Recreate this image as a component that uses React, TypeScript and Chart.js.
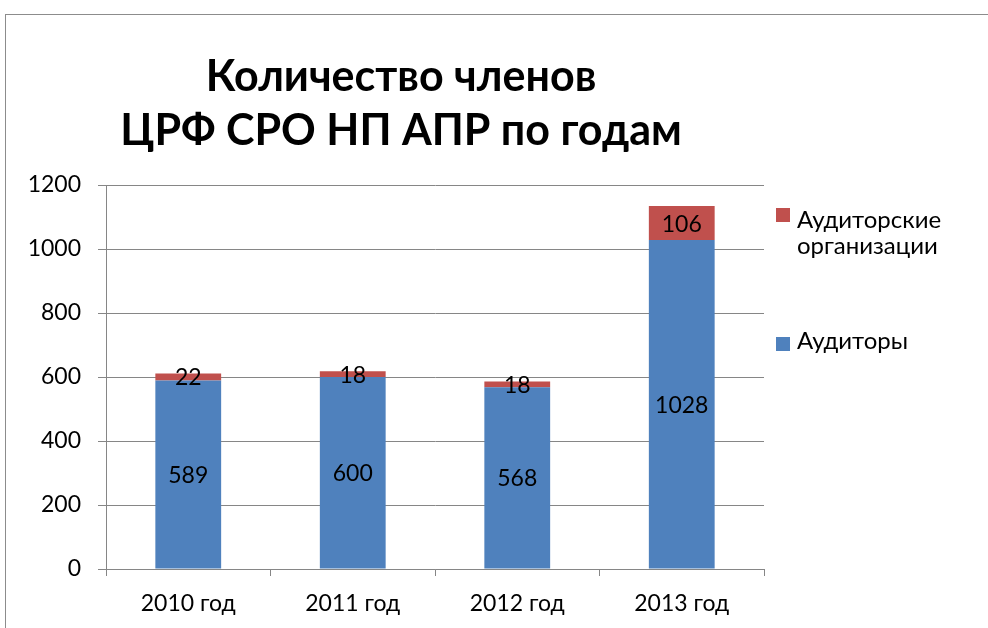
import React, { useEffect, useRef } from "react";
import { Chart, registerables } from "chart.js";
Chart.register(...registerables);

const categories = ["2010 год", "2011 год", "2012 год", "2013 год"];
const auditors = [589, 600, 568, 1028];
const organizations = [22, 18, 18, 106];
const titleLines = ["Количество членов", "ЦРФ СРО НП АПР по годам"];
const seriesNames = ["Аудиторы", "Аудиторские организации"];
const legendLines = [["Аудиторы"], ["Аудиторские", "организации"]];
const yMin = 0;
const yMax = 1200;
const yStep = 200;

const FONT = "Lato, 'Open Sans', sans-serif";
const GRID = "#868686";

const framePlugin = {
  id: "frame",
  beforeDraw(chart: any) {
    const ctx = chart.ctx;
    ctx.save();
    ctx.fillStyle = "#ffffff";
    ctx.fillRect(0, 0, chart.width, chart.height);
    ctx.strokeStyle = "#8c8c8c";
    ctx.lineWidth = 1;
    ctx.strokeRect(5.5, 14.5, 1100, 800);
    ctx.restore();
  },
  afterDraw(chart: any) {
    const ctx = chart.ctx;
    ctx.save();
    ctx.fillStyle = "#000";
    ctx.font = `bold 43px ${FONT}`;
    ctx.textAlign = "center";
    ctx.textBaseline = "alphabetic";
    ctx.fillText(titleLines[0], 401, 91);
    ctx.fillText(titleLines[1], 401, 145);

    // legend
    ctx.font = `24px ${FONT}`;
    ctx.textAlign = "left";
    const entries = [
      { ds: 1, boxY: 208, baseY: 228 },
      { ds: 0, boxY: 337, baseY: 349 },
    ];
    entries.forEach((e) => {
      const dataset = chart.data.datasets[e.ds];
      ctx.fillStyle = dataset.backgroundColor;
      ctx.fillRect(776, e.boxY, 14, 14);
      ctx.fillStyle = "#000";
      legendLines[e.ds].forEach((line: string, i: number) => {
        ctx.fillText(line, 797, e.baseY + i * 26);
      });
    });
    ctx.restore();
  },
  afterDatasetsDraw(chart: any) {
    const ctx = chart.ctx;
    ctx.save();
    ctx.fillStyle = "#000";
    ctx.font = `23px ${FONT}`;
    ctx.textAlign = "center";
    ctx.textBaseline = "middle";
    chart.data.datasets.forEach((ds: any, di: number) => {
      const meta = chart.getDatasetMeta(di);
      meta.data.forEach((el: any, i: number) => {
        const y = (el.y + el.base) / 2;
        ctx.fillText(String(ds.data[i]), el.x, y + 1);
      });
    });
    ctx.restore();
  },
};

export default function App() {
  const ref = useRef<HTMLCanvasElement>(null);
  useEffect(() => {
    const chart = new Chart(ref.current as HTMLCanvasElement, {
      type: "bar",
      data: {
        labels: categories,
        datasets: [
          {
            label: seriesNames[0],
            data: auditors,
            backgroundColor: "#4F81BD",
            categoryPercentage: 1,
            barPercentage: 0.4,
          },
          {
            label: seriesNames[1],
            data: organizations,
            backgroundColor: "#C0504D",
            categoryPercentage: 1,
            barPercentage: 0.4,
          },
        ],
      },
      options: {
        animation: false,
        responsive: true,
        maintainAspectRatio: false,
        layout: { padding: { left: 0, right: 224, top: 185, bottom: 0 } },
        plugins: {
          legend: { display: false },
          title: { display: false },
          tooltip: { enabled: false },
        },
        scales: {
          x: {
            stacked: true,
            offset: true,
            grid: {
              display: true,
              drawOnChartArea: false,
              drawTicks: true,
              tickLength: 7,
              color: GRID,
              offset: true,
            },
            border: { color: GRID },
            ticks: {
              color: "#000",
              font: { family: FONT, size: 23 },
              padding: 14,
              maxRotation: 0,
            },
            afterFit(scale: any) {
              scale.height = 59;
            },
          },
          y: {
            stacked: true,
            min: yMin,
            max: yMax,
            ticks: {
              stepSize: yStep,
              color: "#000",
              font: { family: FONT, size: 23 },
              padding: 17,
              callback: (v: any) => String(v),
            },
            grid: { color: GRID, tickLength: 8 },
            border: { color: GRID },
            afterFit(scale: any) {
              scale.width = 106;
            },
          },
        },
      },
      plugins: [framePlugin],
    });
    return () => chart.destroy();
  }, []);
  return (
    <div style={{ position: "fixed", left: 0, top: 0, width: 988, height: 628 }}>
      <canvas ref={ref} />
    </div>
  );
}
